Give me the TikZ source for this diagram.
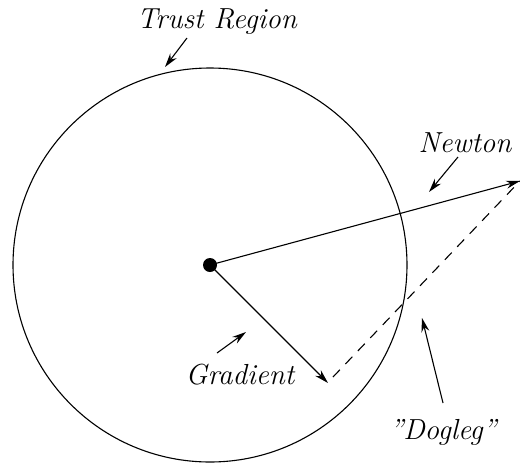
\documentclass[tikz,border=0pt]{standalone}
\usepackage{fontspec}
\usepackage{tikz}
\usetikzlibrary{positioning,arrows.meta,calc}

\begin{document}
\begin{tikzpicture}[
  x=1pt, y=-1pt,
  ln/.style={line width=1.1pt},
  tip/.style={-{Stealth[length=14pt,width=8pt]}},
  lb/.style={font=\fontsize{29}{34}\selectfont\itshape, inner sep=0pt},
]
\useasboundingbox (0,0) rectangle (520,464);
% centre and step ends
\coordinate (c) at (210,265);
\coordinate (n) at (520,181);
\coordinate (g) at (328,383);
\draw[ln] (c) circle (197pt);
\fill (c) circle (7pt);
% steps
\draw[ln, tip] (c) -- (n);
\draw[ln, tip] (c) -- (g);
\draw[ln, dashed, dash pattern=on 10pt off 8pt] (g) ++(5,-6) coordinate (gd) -- (n);
% labels
\node[lb] (trust) at (217,22) {Trust Region};
\node[lb] (newton) at (465,143) {Newton};
\node[lb] (grad) at (240,375) {Gradient};
\node[lb] (dog) at (443,432) {"Dogleg"};
\coordinate (trustp) at (165,67);
\coordinate (newtonp) at (429,192);
\coordinate (gradp) at (246,332);
\coordinate (dogp) at (422,318);
\draw[ln, tip] (187,38) coordinate (trusts) -- (trustp);
\draw[ln, tip] (458,157) coordinate (newtons) -- (newtonp);
\draw[ln, tip] (217,353) coordinate (grads) -- (gradp);
\draw[ln, tip] (443,403) coordinate (dogs) -- (dogp);
\end{tikzpicture}
\end{document}
